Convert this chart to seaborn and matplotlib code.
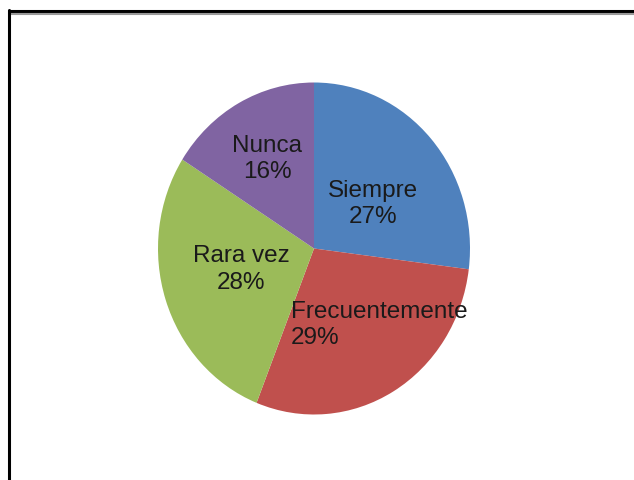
import numpy as np
import matplotlib
matplotlib.use("Agg")
import matplotlib.pyplot as plt
import seaborn as sns

sns.set_theme(style="white")
plt.rcParams["font.family"] = ["Liberation Sans", "DejaVu Sans"]

categories = ["Siempre", "Frecuentemente", "Rara vez", "Nunca"]
values = [27, 29, 28, 16]
colors = ["#4F81BD", "#C0504D", "#9BBB59", "#8064A2"]

fig = plt.figure(figsize=(6.34, 4.81), dpi=100)
fig.patch.set_facecolor("white")

# frame lines at top and left, as in the cropped screenshot
fig.add_artist(plt.Line2D([9 / 634, 1], [1 - 12 / 481, 1 - 12 / 481], color="black", lw=2.2))
fig.add_artist(plt.Line2D([9 / 634, 1], [1 - 14.5 / 481, 1 - 14.5 / 481], color="#999999", lw=1.5))
fig.add_artist(plt.Line2D([9 / 634, 9 / 634], [0, 1 - 11 / 481], color="black", lw=2.2))

# the screenshot is slightly stretched vertically, so the pie is an ellipse
cx, cy, rx, ry = 314, 249.5, 156, 166
ax = fig.add_axes([(cx - rx) / 634, 1 - (cy + ry) / 481, 2 * rx / 634, 2 * ry / 481])
wedges, _ = ax.pie(values, colors=colors, startangle=90, counterclock=False,
                   wedgeprops=dict(linewidth=0))
ax.set_xlim(-1, 1)
ax.set_ylim(-1, 1)
ax.set_aspect("auto")

label_r = [0.44, 0.53, 0.47, 0.62]
shift_x = [0.05, 0.147, -0.02, 0.0]
shift_y = [-0.015, 0.0, 0.025, 0.0]
for w, cat, v, r, sx, sy in zip(wedges, categories, values, label_r, shift_x, shift_y):
    ang = np.deg2rad((w.theta1 + w.theta2) / 2)
    x = r * np.cos(ang) + sx
    y = r * np.sin(ang) + sy
    ax.text(x, y, f"{cat}\n{v}%", ha="center", va="center",
            multialignment="left" if cat == "Frecuentemente" else "center",
            fontsize=17.5, color="#1a1a1a", linespacing=1.25)

fig.savefig("out.png", dpi=100, facecolor="white")
